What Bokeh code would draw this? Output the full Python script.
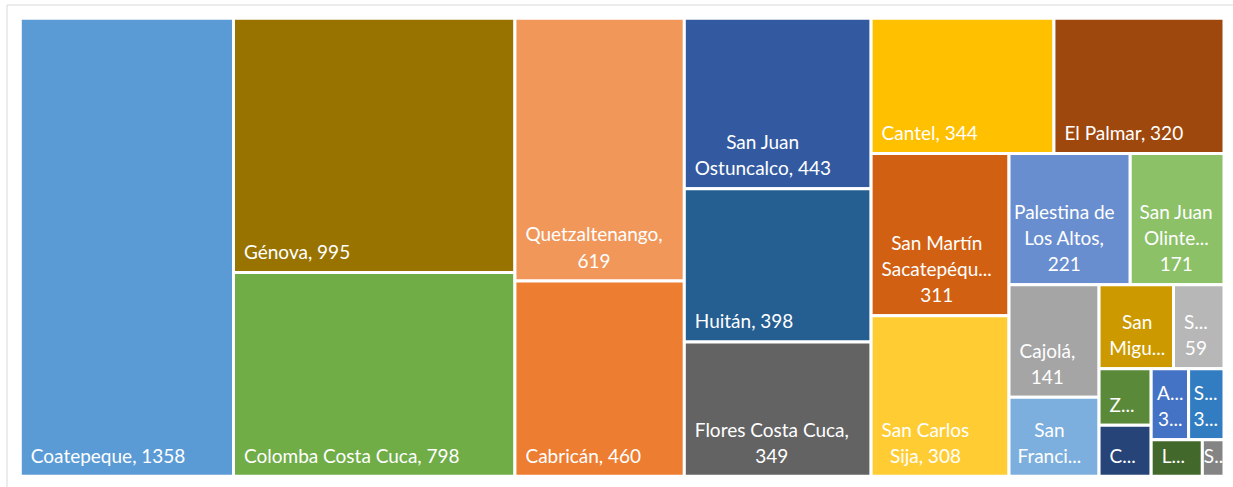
from bokeh.plotting import figure
from bokeh.models import ColumnDataSource, Range1d
from bokeh.embed import file_html
from bokeh.resources import INLINE
from bokeh.core.properties import value

# ---------------- data ----------------
names = ["Coatepeque", "Génova", "Colomba Costa Cuca", "Quetzaltenango", "Cabricán",
         "San Juan Ostuncalco", "Huitán", "Flores Costa Cuca", "Cantel", "El Palmar",
         "San Martín Sacatepéquez", "San Carlos Sija", "Palestina de Los Altos",
         "San Juan Olintepeque", "Cajolá", "San Francisco La Unión", "San Miguel Sigüilá",
         "Sibilia", "Zunil", "Concepción Chiquirichapa", "Almolonga", "Salcajá",
         "La Esperanza", "San Mateo"]
values = [1358, 995, 798, 619, 460, 443, 398, 349, 344, 320, 311, 308, 221, 171, 141,
          99, 87, 59, 41, 37, 37, 35, 26, 11]
# label as shown (Excel wraps / truncates), {} = value
label_templates = ["Coatepeque, {}", "Génova, {}", "Colomba Costa Cuca, {}",
                   "Quetzaltenango,\n{}", "Cabricán, {}", "San Juan\nOstuncalco, {}",
                   "Huitán, {}", "Flores Costa Cuca,\n{}", "Cantel, {}", "El Palmar, {}",
                   "San Martín\nSacatepéqu...\n{}", "San Carlos\nSija, {}",
                   "Palestina de\nLos Altos,\n{}", "San Juan\nOlinte...\n{}", "Cajolá,\n{}",
                   "San\nFranci...", "San\nMigu...", "S...\n{}", "Z...", "C...",
                   "A...\n3...", "S...\n3...", "L...", "S..."]
colors = ["#5B9BD5", "#997300", "#70AD47", "#F1975A", "#ED7D31", "#335AA1", "#255E91",
          "#636363", "#FFC000", "#9E480E", "#D26012", "#FFCD33", "#698ED0", "#8CC168",
          "#A5A5A5", "#7CAFDD", "#CC9A00", "#B7B7B7", "#5A8A39", "#264478", "#4472C4",
          "#327DC2", "#43682B", "#848484"]

# ---------------- layout ----------------
W, H = 1233, 487
X0, Y0, X1, Y1 = 19.8, 17.8, 1223.5, 475.8
TARGET = 1.1   # preferred height/width of a cell
FS = 19


def squarify(vals, x0, y0, x1, y1):
    order = sorted(range(len(vals)), key=lambda i: -vals[i])
    k = (x1 - x0) * (y1 - y0) / float(sum(vals))
    out = {}
    i = 0
    while i < len(order):
        w, h = x1 - x0, y1 - y0
        vertical = w >= h
        side = h if vertical else w

        def worst(row):
            s = sum(vals[j] for j in row) * k
            th = s / side
            res = 0
            for j in row:
                ln = vals[j] * k / th
                r = ln / th if vertical else th / ln
                res = max(res, r / TARGET, TARGET / r)
            return res

        row = [order[i]]
        while i + len(row) < len(order) and worst(row + [order[i + len(row)]]) <= worst(row):
            row.append(order[i + len(row)])
        th = sum(vals[j] for j in row) * k / side
        pos = y0 if vertical else x0
        for j in row:
            ln = vals[j] * k / th
            if vertical:
                out[j] = (x0, x0 + th, pos, pos + ln)
            else:
                out[j] = (pos, pos + ln, y0, y0 + th)
            pos += ln
        if vertical:
            x0 += th
        else:
            y0 += th
        i += len(row)
    return [out[j] for j in range(len(vals))]


rects = squarify(values, X0, Y0, X1, Y1)


def text_width(s):
    wd = 0
    for ch in s:
        if ch in ".,  ":
            wd += 0.25
        elif ch.isdigit():
            wd += 0.58
        elif ch.isupper():
            wd += 0.6
        else:
            wd += 0.5
    return wd * FS


labels, lx, ly = [], [], []
for i, (l, r, t, b) in enumerate(rects):
    txt = label_templates[i].format(values[i])
    labels.append(txt)
    tw = max(text_width(s) for s in txt.split("\n"))
    inner = (r - l) - 3
    pad = min(9.0, max(0.0, (inner - tw) / 2))
    lx.append(min(l + 1.5 + pad, W - tw - 1))
    ly.append(b - 1.5 - 8)

src = ColumnDataSource(dict(
    left=[r[0] for r in rects], right=[r[1] for r in rects],
    top=[r[2] for r in rects], bottom=[r[3] for r in rects],
    color=colors, name=names, label=labels, lx=lx, ly=ly))

p = figure(width=W, height=H, x_range=Range1d(0, W), y_range=Range1d(H, 0),
           x_axis_type=None, y_axis_type=None, output_backend="svg",
           toolbar_location=None, min_border=0)
p.grid.visible = False
p.outline_line_color = None
p.background_fill_color = "white"
p.border_fill_color = "white"

# chart-area frame (extends past the visible window on the right and bottom)
p.quad(left=[6.5], right=[W + 10], top=[4.5], bottom=[H + 10],
       fill_color=None, line_color="#D9D9D9", line_width=1)

p.quad(left="left", right="right", top="top", bottom="bottom", source=src,
       fill_color="color", line_color="white", line_width=3)
p.text(x="lx", y="ly", text="label", source=src, text_color="white",
       text_font=value("Lato"), text_font_size=f"{FS}px", text_align="center",
       anchor="bottom_left", text_line_height=1.14)

open("out.html", "w").write(file_html(p, INLINE))
